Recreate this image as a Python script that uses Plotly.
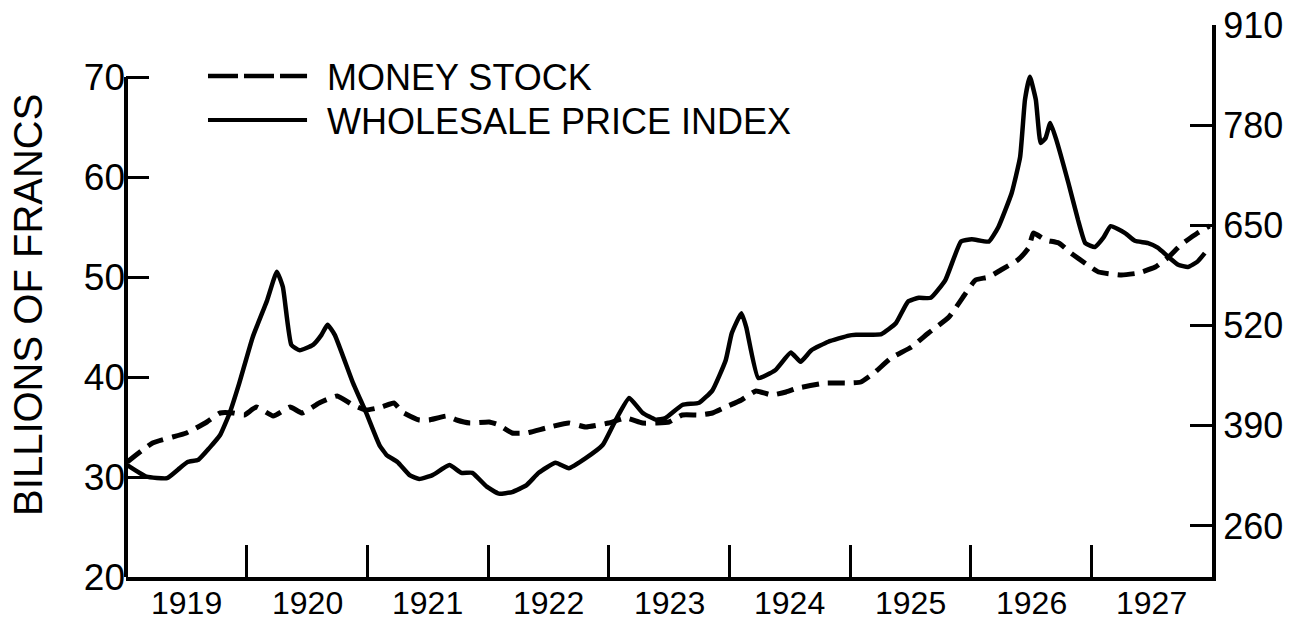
import plotly.graph_objects as go

# ---- data ----
money_years = [1919.01, 1919.22, 1919.50, 1919.67, 1919.78, 1919.89, 1919.98, 1920.08, 1920.22, 1920.36,
               1920.46, 1920.60, 1920.75, 1920.88, 1920.99, 1921.12, 1921.22, 1921.29, 1921.43, 1921.51,
               1921.66, 1921.74, 1921.85, 1922.01, 1922.09, 1922.20, 1922.32, 1922.48, 1922.67, 1922.81,
               1923.00, 1923.14, 1923.28, 1923.40, 1923.50, 1923.61, 1923.75, 1923.86, 1923.97, 1924.10,
               1924.22, 1924.35, 1924.47, 1924.57, 1924.80, 1924.99, 1925.09, 1925.20, 1925.34, 1925.51,
               1925.65, 1925.82, 1925.96, 1926.04, 1926.15, 1926.25, 1926.39, 1926.48, 1926.52, 1926.62,
               1926.73, 1926.83, 1926.97, 1927.06, 1927.25, 1927.39, 1927.53, 1927.64, 1927.74, 1927.88,
               1927.98]
money_stock = [31.5, 33.4, 34.4, 35.5, 36.4, 36.4, 36.2, 37.0, 36.1, 37.0,
               36.4, 37.4, 38.1, 37.2, 36.7, 37.0, 37.4, 36.5, 35.7, 35.7,
               36.1, 35.7, 35.4, 35.5, 35.2, 34.4, 34.4, 34.9, 35.4, 35.0,
               35.4, 35.9, 35.4, 35.4, 35.5, 36.2, 36.2, 36.4, 37.0, 37.7,
               38.6, 38.2, 38.5, 38.9, 39.4, 39.4, 39.5, 40.4, 41.9, 43.0,
               44.4, 46.0, 48.4, 49.7, 50.0, 50.7, 51.7, 52.9, 54.4, 53.7,
               53.4, 52.4, 51.2, 50.5, 50.2, 50.4, 51.0, 52.0, 53.2, 54.4,
               55.1]

wpi_years = [1919.01, 1919.17, 1919.34, 1919.43, 1919.51, 1919.60, 1919.69, 1919.78, 1919.86, 1919.94,
             1920.05, 1920.17, 1920.25, 1920.30, 1920.37, 1920.44, 1920.55, 1920.62, 1920.67, 1920.73,
             1920.88, 1920.99, 1921.10, 1921.16, 1921.25, 1921.35, 1921.43, 1921.54, 1921.68, 1921.78,
             1921.87, 1921.99, 1922.09, 1922.20, 1922.32, 1922.42, 1922.56, 1922.67, 1922.81, 1922.95,
             1923.06, 1923.17, 1923.28, 1923.39, 1923.47, 1923.61, 1923.75, 1923.86, 1923.97, 1924.02,
             1924.10, 1924.14, 1924.24, 1924.38, 1924.51, 1924.59, 1924.68, 1924.82, 1924.99, 1925.05,
             1925.26, 1925.38, 1925.48, 1925.57, 1925.67, 1925.79, 1925.92, 1926.01, 1926.15, 1926.23,
             1926.34, 1926.41, 1926.45, 1926.49, 1926.54, 1926.58, 1926.62, 1926.66, 1926.71, 1926.81,
             1926.89, 1926.95, 1927.03, 1927.10, 1927.16, 1927.28, 1927.36, 1927.47, 1927.55, 1927.64,
             1927.72, 1927.80, 1927.88, 1927.94]
wpi_index = [339, 324, 322, 333, 343, 346, 361, 378, 407, 446,
             505, 553, 590, 570, 495, 488, 495, 508, 521, 508,
             446, 407, 365, 352, 343, 326, 321, 326, 339, 329,
             329, 311, 302, 304, 313, 329, 342, 335, 348, 365,
             398, 426, 407, 398, 400, 417, 420, 436, 475, 510,
             536, 518, 452, 462, 485, 473, 488, 499, 507, 508,
             509, 523, 551, 556, 556, 579, 629, 632, 629, 648,
             692, 739, 813, 843, 813, 757, 763, 783, 761, 705,
             657, 627, 622, 634, 649, 640, 630, 627, 621, 609,
             599, 596, 603, 614]

year_labels = ["1919", "1920", "1921", "1922", "1923", "1924", "1925", "1926", "1927"]
year_bounds = [1920, 1921, 1922, 1923, 1924, 1925, 1926, 1927]
left_ticks = [20, 30, 40, 50, 60, 70]
right_ticks = [260, 390, 520, 650, 780, 910]

FONT = "Liberation Sans"

fig = go.Figure()
fig.add_trace(go.Scatter(x=money_years, y=money_stock, mode="lines", name="MONEY STOCK",
                         line=dict(color="black", width=5, dash="17px,9px", shape="spline", smoothing=0.4),
                         yaxis="y", showlegend=False))
fig.add_trace(go.Scatter(x=wpi_years, y=wpi_index, mode="lines", name="WHOLESALE PRICE INDEX",
                         line=dict(color="black", width=4.5, shape="spline", smoothing=0.4),
                         yaxis="y2", showlegend=False))

fig.update_layout(
    width=1305, height=625,
    margin=dict(l=126, r=93, t=25, b=48, autoexpand=False),
    paper_bgcolor="white", plot_bgcolor="white",
    font=dict(family=FONT, color="black"),
    xaxis=dict(range=[1919, 1928], showgrid=False, zeroline=False, automargin=False,
               showline=True, linecolor="black", linewidth=4,
               tickmode="array", tickvals=year_bounds, ticks="inside", ticklen=32,
               tickwidth=2.5, tickcolor="black", showticklabels=False),
    yaxis=dict(range=[20, 75.2], showgrid=False, zeroline=False, showline=False, automargin=False,
               tickmode="array", tickvals=left_ticks, ticks="inside", ticklen=23,
               tickwidth=3, tickcolor="black", tickfont=dict(size=37, family=FONT)),
    yaxis2=dict(range=[193.8, 910], overlaying="y", side="right", showgrid=False, zeroline=False,
                showline=True, linecolor="black", linewidth=4, automargin=False,
                tickmode="array", tickvals=right_ticks, ticks="inside", ticklen=22,
                tickwidth=3, tickcolor="black", tickfont=dict(size=36, family=FONT),
                ticklabeloverflow="allow"),
)

# year labels centred in each year
for lab in year_labels:
    fig.add_annotation(text=lab, xref="x", yref="paper", x=int(lab) + 0.5, y=-0.047,
                       xanchor="center", yanchor="middle", showarrow=False,
                       font=dict(size=32, family=FONT))

# left axis line (only spans 20..70)
fig.add_shape(type="line", xref="paper", yref="y", x0=0, x1=0, y0=left_ticks[0], y1=left_ticks[-1],
              line=dict(color="black", width=4))

# legend drawn by hand
fig.add_shape(type="line", xref="paper", yref="paper", x0=0.0755, x1=0.1667, y0=0.9076, y1=0.9076,
              line=dict(color="black", width=4.5, dash="30px,6px"))
fig.add_shape(type="line", xref="paper", yref="paper", x0=0.0755, x1=0.1667, y0=0.828, y1=0.828,
              line=dict(color="black", width=4))
fig.add_annotation(text="MONEY STOCK", xref="paper", yref="paper", x=0.1832, y=0.904,
                   xanchor="left", yanchor="middle", showarrow=False, font=dict(size=36, family=FONT))
fig.add_annotation(text="WHOLESALE PRICE INDEX", xref="paper", yref="paper", x=0.1832, y=0.8252,
                   xanchor="left", yanchor="middle", showarrow=False, font=dict(size=36, family=FONT))

# y axis title
fig.add_annotation(text="BILLIONS OF FRANCS", xref="paper", yref="paper", x=-0.0903, y=0.4928,
                   xanchor="center", yanchor="middle", textangle=-90, showarrow=False,
                   font=dict(size=40, family=FONT))

# remove the browser's default 8px body margin so the figure fills the window exactly
fig.write_html("out.html", config={"displayModeBar": False},
               post_script="document.body.style.margin='0';")
